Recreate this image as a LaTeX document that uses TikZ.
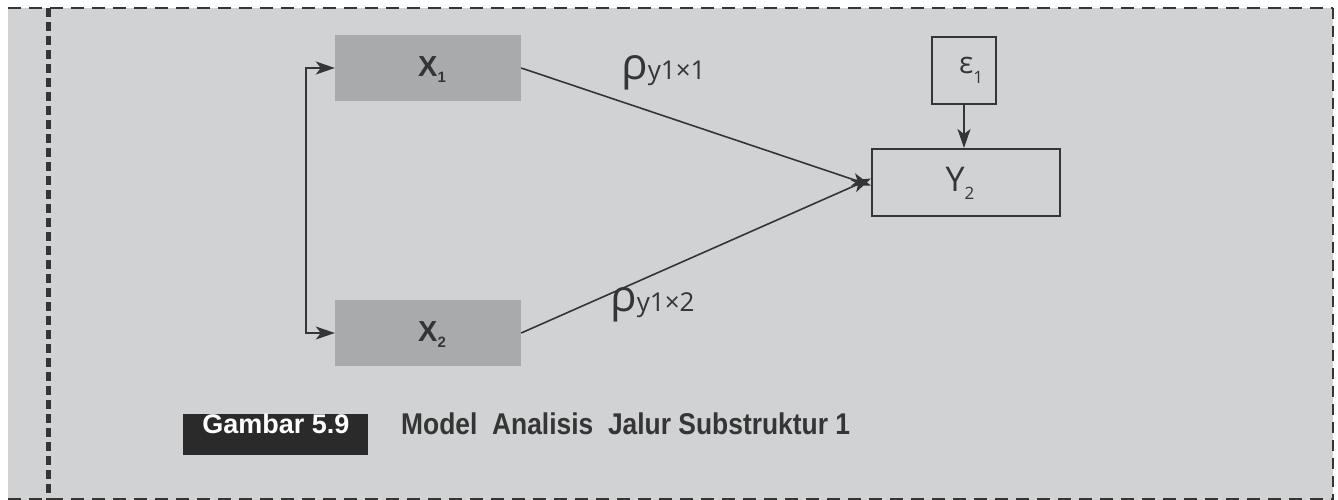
\documentclass[tikz,border=0pt]{standalone}
\usepackage{fontspec}
\setmainfont{Liberation Sans}
\newfontfamily\capfont[FakeStretch=0.88]{Liberation Sans}
\newfontfamily\lblfont{Open Sans}
\usetikzlibrary{arrows.meta,calc}
\definecolor{panel}{HTML}{D1D2D4}
\definecolor{boxgray}{HTML}{A9AAAC}
\definecolor{ink}{HTML}{353535}
\definecolor{tagbg}{HTML}{2A2A2A}
\tikzset{
  tip/.tip={Stealth[length=19pt,width=13pt,inset=5pt]},
  varbox/.style={fill=boxgray, draw=none, minimum width=186pt, minimum height=66pt, inner sep=0pt},
  outbox/.style={draw=ink, line width=2pt, fill=none, inner sep=0pt},
  conn/.style={draw=ink, line width=1.6pt, -tip},
  bothconn/.style={draw=ink, line width=1.6pt, tip-tip},
  coef/.style={text=ink, inner sep=0pt},
  border/.style={draw=ink, line width=2.5pt},
}
\begin{document}
\begin{tikzpicture}[x=1pt,y=-1pt]
\useasboundingbox (0,0) rectangle (1338,500);
\fill[white] (0,0) rectangle (1338,500);
\fill[panel] (8,8) rectangle (1333,500);
% frame
\draw[border, dash pattern=on 13pt off 8pt] (8,8) -- (1333,8);
\draw[border, dash pattern=on 11pt off 7pt] (1333,8) -- (1333,500);
\draw[border, line width=2pt, dash pattern=on 13pt off 8pt] (8,499) -- (1333,499);
\draw[draw=ink, line width=5pt, dash pattern=on 9pt off 5pt] (48,8) -- (48,500);

% variables
\node[varbox] (x1) at (428,68) {};
\node[text=ink, font=\bfseries\fontsize{29}{30}\selectfont] (x1t) at (432,70) {X\raisebox{-6pt}{\fontsize{15}{15}\selectfont 1}};
\node[varbox] (x2) at (428,333) {};
\node[text=ink, font=\bfseries\fontsize{29}{30}\selectfont] (x2t) at (432,335) {X\raisebox{-6pt}{\fontsize{15}{15}\selectfont 2}};

\node[outbox, minimum width=188pt, minimum height=67pt] (y2) at (966,182.5) {};
\node[text=ink, font=\lblfont\fontsize{34}{36}\selectfont] (y2t) at (960,183) {Y\raisebox{-8pt}{\fontsize{17}{17}\selectfont 2}};
\node[outbox, minimum width=64pt, minimum height=67pt] (e1) at (964,70.5) {};
\node[text=ink, font=\lblfont\fontsize{30}{32}\selectfont] (e1t) at (971,70) {\raisebox{2pt}{ε}\raisebox{-8pt}{\fontsize{17}{17}\selectfont 1}};

% connectors
\draw[bothconn] (x1.west) -- ++(-29,0) coordinate (bend) |- (x2.west);
\draw[conn] (x1.east) -- ([yshift=-3pt]y2.west);
\draw[conn] (x2.east) -- ([yshift=4pt]y2.west);
\draw[conn] (e1.south) -- (e1.south |- y2.north);

% path coefficients
\node[coef, anchor=base west, font=\lblfont\fontsize{26}{27}\selectfont] (r1) at (621,80) {{\fontsize{44}{44}\selectfont ρ}y1×1};
\node[coef, anchor=base west, font=\lblfont\fontsize{26}{27}\selectfont] (r2) at (610,311) {{\fontsize{44}{44}\selectfont ρ}y1×2};

% caption
\node[fill=tagbg, minimum width=185pt, minimum height=41pt, inner sep=0pt] (tag) at (275.5,434.5) {};
\node[text=white, anchor=base, font=\bfseries\fontsize{27}{29}\selectfont, inner sep=0pt] (tagt) at (276,433) {Gambar 5.9};
\node[text=ink, anchor=base west, font=\capfont\bfseries\fontsize{30}{32}\selectfont, inner sep=0pt] (cap) at (401,434) {Model\ \ Analisis\ \ Jalur Substruktur 1};
\end{tikzpicture}
\end{document}
